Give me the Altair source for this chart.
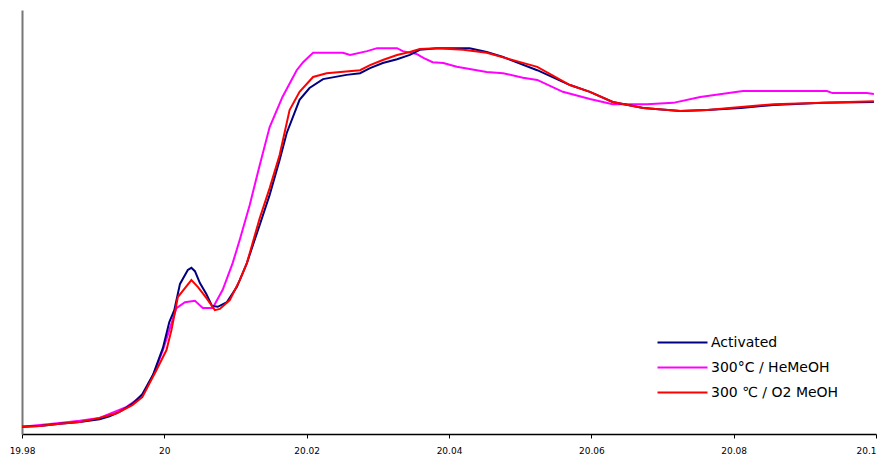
import altair as alt
import pandas as pd

# Activated (navy)
act_x = [19.9800, 19.9825, 19.9853, 19.9881, 19.9909, 19.9923, 19.9937, 19.9955, 19.9969, 19.9984,
         19.9998, 20.0007, 20.0014, 20.0022, 20.0033, 20.0038, 20.0043, 20.0050, 20.0059, 20.0067,
         20.0075, 20.0088, 20.0102, 20.0116, 20.0134, 20.0148, 20.0162, 20.0172, 20.0190, 20.0204,
         20.0223, 20.0256, 20.0275, 20.0289, 20.0307, 20.0327, 20.0345, 20.0359, 20.0383, 20.0429,
         20.0453, 20.0476, 20.0524, 20.0570, 20.0598, 20.0630, 20.0673, 20.0725, 20.0763, 20.0810,
         20.0856, 20.0926, 20.0997]
act_y = [1.7, 1.9, 2.4, 2.8, 3.5, 4.2, 5.2, 7.1, 9.4, 13.9,
         20.3, 26.4, 29.2, 35.4, 38.7, 39.2, 38.4, 35.6, 33.0, 30.2,
         30.0, 31.1, 34.7, 40.3, 49.3, 56.4, 64.6, 71.0, 78.8, 81.6,
         83.7, 84.7, 85.1, 86.3, 87.5, 88.4, 89.4, 90.6, 91.0, 91.0,
         90.1, 88.9, 85.8, 82.3, 80.7, 78.3, 76.9, 76.2, 76.4, 76.9,
         77.6, 78.1, 78.3]

# 300°C / HeMeOH (magenta)
he_x = [19.9800, 19.9825, 19.9853, 19.9881, 19.9909, 19.9947, 19.9969, 19.9986, 19.9998, 20.0007,
        20.0017, 20.0029, 20.0043, 20.0054, 20.0068, 20.0082, 20.0096, 20.0106, 20.0120, 20.0134,
        20.0148, 20.0166, 20.0186, 20.0195, 20.0209, 20.0251, 20.0261, 20.0285, 20.0299, 20.0327,
        20.0335, 20.0355, 20.0364, 20.0377, 20.0392, 20.0411, 20.0429, 20.0453, 20.0476, 20.0504,
        20.0524, 20.0560, 20.0598, 20.0630, 20.0678, 20.0715, 20.0753, 20.0813, 20.0931, 20.0939,
        20.0987, 20.0997]
he_y = [1.7, 2.1, 2.6, 3.1, 3.8, 6.4, 9.0, 14.6, 19.8, 24.5,
        29.7, 31.1, 31.4, 29.7, 29.7, 34.0, 40.3, 45.8, 54.0, 63.4,
        72.4, 79.5, 85.8, 87.7, 89.9, 89.9, 89.4, 90.3, 91.0, 91.0,
        90.3, 89.6, 88.7, 87.7, 87.5, 86.6, 86.1, 85.4, 85.1, 84.0,
        83.5, 80.7, 79.0, 77.8, 77.8, 78.1, 79.5, 80.9, 80.9, 80.4,
        80.4, 80.2]

# 300 ℃ / O2 MeOH (red)
o2_x = [19.9800, 19.9825, 19.9853, 19.9881, 19.9909, 19.9933, 19.9955, 19.9969, 19.9989, 20.0003,
        20.0010, 20.0019, 20.0029, 20.0038, 20.0047, 20.0059, 20.0071, 20.0078, 20.0092, 20.0106,
        20.0116, 20.0134, 20.0148, 20.0162, 20.0176, 20.0190, 20.0209, 20.0228, 20.0275, 20.0289,
        20.0307, 20.0327, 20.0345, 20.0359, 20.0383, 20.0420, 20.0453, 20.0524, 20.0570, 20.0598,
        20.0630, 20.0673, 20.0725, 20.0763, 20.0810, 20.0856, 20.0926, 20.0997]
o2_y = [1.7, 1.9, 2.4, 2.8, 3.8, 4.9, 6.8, 8.7, 15.1, 19.8,
        24.5, 32.3, 34.4, 36.3, 34.7, 32.1, 29.2, 29.5, 31.6, 36.3,
        40.3, 50.9, 58.0, 65.8, 76.4, 80.7, 84.2, 85.1, 85.8, 87.0,
        88.2, 89.4, 90.1, 90.8, 91.0, 90.6, 89.9, 86.6, 82.3, 80.7,
        78.3, 76.9, 76.2, 76.4, 77.1, 77.8, 78.1, 78.5]

series_names = ["Activated", "300°C / HeMeOH", "300 ℃ / O2 MeOH"]
series_colors = ["#000080", "#FF00FF", "#FF0000"]
x_ticks = [19.98, 20.0, 20.02, 20.04, 20.06, 20.08, 20.1]

rows = []
for order, (name, xs, ys) in enumerate([(series_names[1], he_x, he_y),
                                         (series_names[0], act_x, act_y),
                                         (series_names[2], o2_x, o2_y)]):
    for i, (xv, yv) in enumerate(zip(xs, ys)):
        rows.append({"series": name, "x": xv, "y": yv, "i": i, "layer": order})
df = pd.DataFrame(rows)

FONT = "DejaVu Sans"

chart = alt.Chart(df).mark_line(strokeWidth=2, interpolate="linear").encode(
    x=alt.X("x:Q",
            scale=alt.Scale(domain=[19.98, 20.1], nice=False, zero=False),
            axis=alt.Axis(values=x_ticks, format=".2~f", title=None, grid=False,
                          domainColor="#000000", domainWidth=1.5, tickColor="#000000",
                          tickSize=4, labelFont=FONT, labelFontSize=9, labelColor="#000000",
                          labelPadding=8, labelFlush=False,
                          labelAlign={"condition": {"test": "datum.value >= 20.09", "value": "right"},
                                      "value": "center"})),
    y=alt.Y("y:Q",
            scale=alt.Scale(domain=[0, 100], nice=False),
            axis=alt.Axis(labels=False, ticks=False, title=None, grid=False,
                          domainColor="#777777", domainWidth=2)),
    color=alt.Color("series:N",
                    scale=alt.Scale(domain=series_names, range=series_colors),
                    legend=alt.Legend(title=None, orient="none", legendX=647, legendY=319,
                                      symbolType="M-2,0H2", symbolStrokeWidth=2,
                                      symbolSize=625, labelFont=FONT, labelFontSize=14,
                                      labelOffset=15,
                                      labelColor="#000000", rowPadding=4)),
    order=alt.Order("i:Q"),
    detail="layer:N",
).properties(
    width=854, height=424,
    autosize=alt.AutoSizeParams(type="none"),
    padding={"left": 14, "top": 2, "right": 2, "bottom": 23},
).configure_view(stroke=None)

chart.save("out.html", embed_options={"renderer": "svg", "actions": False})
